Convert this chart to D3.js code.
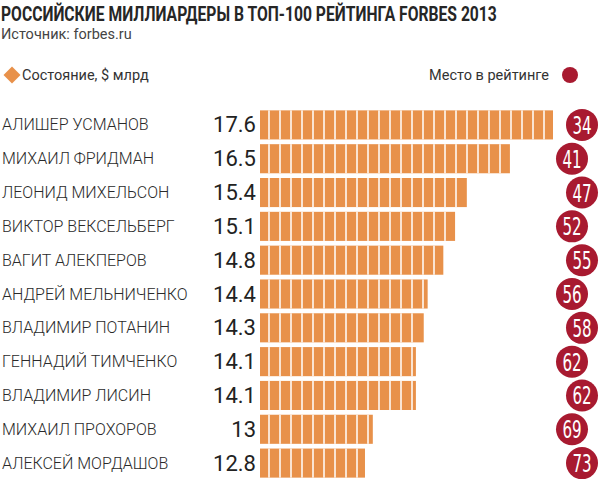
<!DOCTYPE html>
<html lang="ru">
<head>
    <meta charset="UTF-8">
    <title>Российские миллиардеры в топ-100 рейтинга Forbes 2013</title>
    <script src="https://cdnjs.cloudflare.com/ajax/libs/d3/7.8.5/d3.min.js"></script>
    <style>
        body { margin: 0; background: #fff; }
        svg { display: block; }
    </style>
</head>
<body>
    <svg id="chart" width="600" height="485"></svg>
    <script>
        const names = ["АЛИШЕР УСМАНОВ", "МИХАИЛ ФРИДМАН", "ЛЕОНИД МИХЕЛЬСОН", "ВИКТОР ВЕКСЕЛЬБЕРГ",
            "ВАГИТ АЛЕКПЕРОВ", "АНДРЕЙ МЕЛЬНИЧЕНКО", "ВЛАДИМИР ПОТАНИН", "ГЕННАДИЙ ТИМЧЕНКО",
            "ВЛАДИМИР ЛИСИН", "МИХАИЛ ПРОХОРОВ", "АЛЕКСЕЙ МОРДАШОВ"];
        const wealth = [17.6, 16.5, 15.4, 15.1, 14.8, 14.4, 14.3, 14.1, 14.1, 13, 12.8];
        const rank = [34, 41, 47, 52, 55, 56, 58, 62, 62, 69, 73];
        const valueLabels = ["17.6", "16.5", "15.4", "15.1", "14.8", "14.4", "14.3", "14.1", "14.1", "13", "12.8"];

        const orange = "#e8914a";
        const red = "#a81a30";
        const svg = d3.select("#chart");

        const rows = names.map((n, i) => ({ name: n, value: wealth[i], rank: rank[i], label: valueLabels[i], i: i }));

        const x = d3.scaleLinear().domain([10.12, 17.6]).range([260, 553]);
        const y = d3.scaleBand().domain(names).range([108, 480]).paddingInner(0.14).paddingOuter(0.07);

        // title, squeezed horizontally to the reference width
        const title = svg.append("text")
           .attr("x", 0).attr("y", 0)
           .attr("font-family", "Roboto")
           .attr("font-weight", "bold")
           .attr("font-size", 19.5)
           .attr("fill", "#262626")
           .text("РОССИЙСКИЕ МИЛЛИАРДЕРЫ В ТОП-100 РЕЙТИНГА FORBES 2013");
        const tLen = title.node().getComputedTextLength();
        title.attr("transform", `translate(1,21) scale(${496 / tLen},1)`);

        svg.append("text")
           .attr("x", 1).attr("y", 39)
           .attr("font-family", "Roboto")
           .attr("font-size", 14.5)
           .attr("fill", "#444")
           .text("Источник: forbes.ru");

        // legend
        svg.append("rect")
           .attr("x", -6).attr("y", -6).attr("width", 12).attr("height", 12)
           .attr("transform", "translate(12,75) rotate(45)")
           .attr("fill", orange);
        svg.append("text")
           .attr("x", 22).attr("y", 80)
           .attr("font-family", "Roboto")
           .attr("font-size", 14.5)
           .attr("fill", "#333")
           .text("Состояние, $ млрд");

        svg.append("text")
           .attr("x", 549).attr("y", 80)
           .attr("text-anchor", "end")
           .attr("font-family", "Roboto")
           .attr("font-size", 14.5)
           .attr("fill", "#333")
           .text("Место в рейтинге");
        svg.append("circle")
           .attr("cx", 570).attr("cy", 75).attr("r", 8)
           .attr("fill", red);

        const g = svg.selectAll("g.row")
            .data(rows)
            .enter()
            .append("g")
            .attr("class", "row");

        g.append("text")
           .attr("x", 2)
           .attr("y", d => y(d.name) + y.bandwidth() / 2 + 5.5)
           .attr("font-family", "Roboto")
           .attr("font-weight", 300)
           .attr("font-size", 16)
           .attr("fill", "#2a2a2a")
           .text(d => d.name);

        g.append("text")
           .attr("x", 256)
           .attr("y", d => y(d.name) + y.bandwidth() / 2 + 7.5)
           .attr("text-anchor", "end")
           .attr("font-family", "Roboto")
           .attr("font-weight", 400)
           .attr("font-size", 22)
           .attr("fill", "#222")
           .text(d => d.label);

        g.append("rect")
           .attr("x", x(x.domain()[0]))
           .attr("y", d => y(d.name))
           .attr("width", d => x(d.value) - x(x.domain()[0]))
           .attr("height", y.bandwidth())
           .attr("fill", orange);

        // white separators that split each bar into cells
        g.each(function(d) {
            const x0 = x(x.domain()[0]);
            const w = x(d.value) - x0;
            const cuts = d3.range(9, w - 2, 11);
            d3.select(this).selectAll("rect.cut")
                .data(cuts)
                .enter()
                .append("rect")
                .attr("class", "cut")
                .attr("x", c => x0 + c - 0.75)
                .attr("y", y(d.name))
                .attr("width", 1.5)
                .attr("height", y.bandwidth())
                .attr("fill", "#fff");
        });

        // rank circles, staggered left/right
        const cy = d => y(d.name) + y.bandwidth() / 2;
        const cx = d => d.i % 2 ? 572 : 582;

        g.append("circle")
           .attr("cx", cx)
           .attr("cy", cy)
           .attr("r", 16)
           .attr("fill", red);

        g.append("text")
           .attr("x", cx)
           .attr("y", d => cy(d) + 9)
           .attr("text-anchor", "middle")
           .attr("font-family", "'DejaVu Sans Condensed', 'DejaVu Sans'")
           .attr("font-size", 24)
           .attr("fill", "#fff")
           .attr("transform", d => `translate(${cx(d)},0) scale(0.7,1) translate(${-cx(d)},0)`)
           .text(d => d.rank);
    </script>
</body>
</html>
